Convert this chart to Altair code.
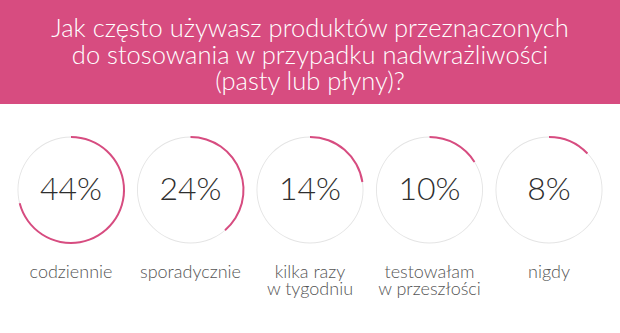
import altair as alt
import pandas as pd

title_lines = [
    "Jak często używasz produktów przeznaczonych",
    "do stosowania w przypadku nadwrażliwości",
    "(pasty lub płyny)?",
]
categories = ["codziennie", "sporadycznie", "kilka razy\nw tygodniu",
              "testowałam\nw przeszłości", "nigdy"]
values = [44, 24, 14, 10, 8]

PINK = "#D74C80"
FONT = "Lato"

df = pd.DataFrame({
    "key": [f"k{i}" for i in range(len(categories))],
    "cat": categories,
    "val": values,
    "zero": [0] * len(values),
    "pct": [f"{v}%" for v in values],
})
tdf = pd.DataFrame({"line": title_lines, "row": list(range(len(title_lines)))})

W, H = 620, 333
xs = alt.Scale(type="point", domain=df["key"].tolist(), range=[71, 549], padding=0)
# arcs in the reference are drawn with a full turn equal to about 62%
th = alt.Scale(domain=[0, 62], range=[0, 6.283185307])

X = alt.X("key:N", scale=xs, axis=None)

ring = alt.Chart(df).mark_arc(radius=53.5, radius2=52.6, color="#E4E4E4",
                              theta=0, theta2=6.2831853).encode(
    x=X, y=alt.value(190), detail="key:N")
arc = alt.Chart(df).mark_arc(radius=54, radius2=52, color=PINK).encode(
    x=X, y=alt.value(190), detail="key:N",
    theta=alt.Theta("zero:Q", scale=th, stack=False), theta2="val:Q")
pct = alt.Chart(df).mark_text(font=FONT, fontSize=32, fontWeight=300, color="#2E2E2E",
                              baseline="middle", align="center").encode(
    x=X, y=alt.value(190), text="pct:N")
lab = alt.Chart(df).mark_text(font=FONT, fontSize=18, fontWeight=300, color="#555555",
                              baseline="alphabetic", align="center",
                              lineBreak="\n", lineHeight=17).encode(
    x=X, y=alt.value(278), text="cat:N")

band = alt.Chart(df.head(1)).mark_rect(color=PINK).encode(
    x=alt.value(0), x2=alt.value(W), y=alt.value(0), y2=alt.value(104))
title = alt.Chart(tdf).mark_text(font=FONT, fontSize=25.5, fontWeight=300, color="white",
                                 baseline="middle", align="center").encode(
    x=alt.value(W / 2),
    y=alt.Y("row:Q", scale=alt.Scale(domain=[0, 333 / 26.5], range=[29, 29 + 333]), axis=None),
    text="line:N")

chart = alt.layer(band, title, ring, arc, pct, lab).properties(
    width=W, height=H, padding=0, autosize=alt.AutoSizeParams(type="none"),
    background="white",
).configure_view(stroke=None)

chart.save("out.html", embed_options={"renderer": "svg", "actions": False})
